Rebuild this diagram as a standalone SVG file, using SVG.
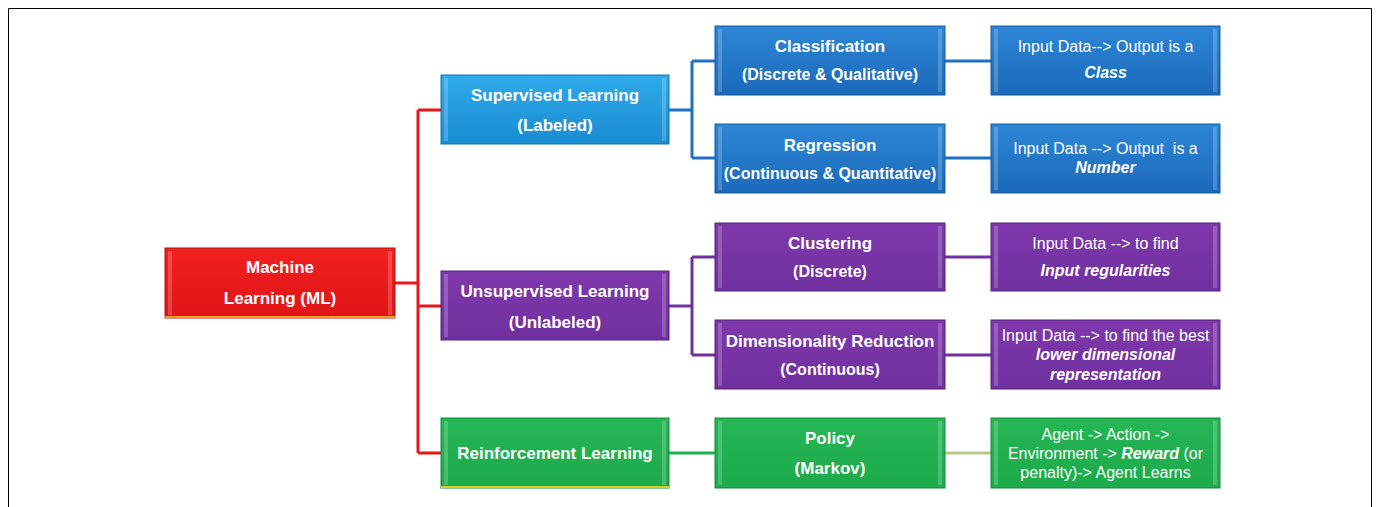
<svg xmlns="http://www.w3.org/2000/svg" width="1380" height="507" viewBox="0 0 1380 507">
<style>
.t{font-family:"Liberation Sans",Arial,sans-serif;fill:#fff;text-anchor:middle}
.b1{font-weight:bold;font-size:17px}
.b2{font-weight:bold;font-size:16px}
.r{font-size:16px}
.bi{font-weight:bold;font-style:italic}
.edge{fill:#fff;opacity:0.2}
.c{fill:none;stroke-width:3}
.red{fill:url(#gRed);stroke:#b01010;stroke-width:1}
.sup{fill:url(#gSup);stroke:#1670a8;stroke-width:1}
.blu{fill:url(#gBlu);stroke:#175a9c;stroke-width:1}
.pur{fill:url(#gPur);stroke:#55207a;stroke-width:1}
.grn{fill:url(#gGrn);stroke:#178a3c;stroke-width:1}
</style>
<defs>
<linearGradient id="gRed" x1="0" y1="0" x2="0" y2="1"><stop offset="0" stop-color="#f0201e"/><stop offset="1" stop-color="#e01418"/></linearGradient>
<linearGradient id="gSup" x1="0" y1="0" x2="0" y2="1"><stop offset="0" stop-color="#2eaaea"/><stop offset="1" stop-color="#1a8cd2"/></linearGradient>
<linearGradient id="gBlu" x1="0" y1="0" x2="0" y2="1"><stop offset="0" stop-color="#2e86d6"/><stop offset="1" stop-color="#1b69ba"/></linearGradient>
<linearGradient id="gPur" x1="0" y1="0" x2="0" y2="1"><stop offset="0" stop-color="#7f38ab"/><stop offset="1" stop-color="#7030a0"/></linearGradient>
<linearGradient id="gGrn" x1="0" y1="0" x2="0" y2="1"><stop offset="0" stop-color="#26b655"/><stop offset="1" stop-color="#1caa4a"/></linearGradient>
</defs>
<rect x="0" y="0" width="1380" height="507" fill="#fff"/>
<path d="M8.5 507 V8.5 H1371.5 V507" fill="none" stroke="#000" stroke-width="1"/>

<g id="connectors">
<path class="c" stroke="#e8161b" d="M395 283 H418 M418 110 V453 M418 110 H441 M418 306 H441 M418 453 H441"/>
<path class="c" stroke="#1f6fc2" d="M669 110 H692 M692 61 V158 M692 61 H715 M692 158 H715 M945 61 H991 M945 158 H991"/>
<path class="c" stroke="#7030a0" d="M669 306 H692 M692 257 V355 M692 257 H715 M692 355 H715 M945 257 H991 M945 355 H991"/>
<path class="c" stroke="#1fb04f" d="M669 453 H715"/>
<path class="c" stroke="#b5c98a" stroke-width="2" d="M945 453 H991"/>
</g>

<g id="ml">
<rect class="red" x="165" y="248" width="230" height="70"/>
<rect x="165" y="316" width="230" height="2" fill="#f0a020"/>
<rect class="edge" x="168" y="251" width="4" height="64"/><rect class="edge" x="388" y="251" width="4" height="64"/>
<text class="t b1" x="280" y="273">Machine</text>
<text class="t b1" x="280" y="304">Learning (ML)</text>
</g>

<g id="supervised">
<rect class="sup" x="441" y="75" width="228" height="69"/>
<rect class="edge" x="444" y="78" width="4" height="63"/><rect class="edge" x="662" y="78" width="4" height="63"/>
<text class="t b1" x="555" y="101">Supervised Learning</text>
<text class="t b1" x="555" y="131">(Labeled)</text>
</g>

<g id="classification">
<rect class="blu" x="715" y="26" width="230" height="69"/>
<rect class="edge" x="718" y="29" width="4" height="63"/><rect class="edge" x="938" y="29" width="4" height="63"/>
<text class="t b1" x="830" y="52">Classification</text>
<text class="t b2" x="830" y="80">(Discrete &amp; Qualitative)</text>
</g>

<g id="class-out">
<rect class="blu" x="991" y="26" width="229" height="69"/>
<rect class="edge" x="994" y="29" width="4" height="63"/><rect class="edge" x="1213" y="29" width="4" height="63"/>
<text class="t r" x="1105.5" y="52">Input Data--&gt; Output is a</text>
<text class="t r bi" x="1105.5" y="78">Class</text>
</g>

<g id="regression">
<rect class="blu" x="715" y="124" width="230" height="69"/>
<rect class="edge" x="718" y="127" width="4" height="63"/><rect class="edge" x="938" y="127" width="4" height="63"/>
<text class="t b1" x="830" y="151">Regression</text>
<text class="t b2" x="830" y="179">(Continuous &amp; Quantitative)</text>
</g>

<g id="regression-out">
<rect class="blu" x="991" y="124" width="229" height="69"/>
<rect class="edge" x="994" y="127" width="4" height="63"/><rect class="edge" x="1213" y="127" width="4" height="63"/>
<text class="t r" x="1105.5" y="154" xml:space="preserve">Input Data --&gt; Output  is a</text>
<text class="t r bi" x="1105.5" y="173">Number</text>
</g>

<g id="unsupervised">
<rect class="pur" x="441" y="271" width="228" height="69"/>
<rect class="edge" x="444" y="274" width="4" height="63"/><rect class="edge" x="662" y="274" width="4" height="63"/>
<text class="t b1" x="555" y="297">Unsupervised Learning</text>
<text class="t b1" x="555" y="328">(Unlabeled)</text>
</g>

<g id="clustering">
<rect class="pur" x="715" y="223" width="230" height="68"/>
<rect class="edge" x="718" y="226" width="4" height="62"/><rect class="edge" x="938" y="226" width="4" height="62"/>
<text class="t b1" x="830" y="249">Clustering</text>
<text class="t b2" x="830" y="277">(Discrete)</text>
</g>

<g id="clustering-out">
<rect class="pur" x="991" y="223" width="229" height="68"/>
<rect class="edge" x="994" y="226" width="4" height="62"/><rect class="edge" x="1213" y="226" width="4" height="62"/>
<text class="t r" x="1105.5" y="249">Input Data --&gt; to find</text>
<text class="t r bi" x="1105.5" y="276">Input regularities</text>
</g>

<g id="dimred">
<rect class="pur" x="715" y="320" width="230" height="69"/>
<rect class="edge" x="718" y="323" width="4" height="63"/><rect class="edge" x="938" y="323" width="4" height="63"/>
<text class="t b1" x="830" y="347">Dimensionality Reduction</text>
<text class="t b2" x="830" y="375">(Continuous)</text>
</g>

<g id="dimred-out">
<rect class="pur" x="991" y="320" width="229" height="69"/>
<rect class="edge" x="994" y="323" width="4" height="63"/><rect class="edge" x="1213" y="323" width="4" height="63"/>
<text class="t r" x="1105.5" y="341">Input Data --&gt; to find the best</text>
<text class="t r bi" x="1105.5" y="360">lower dimensional</text>
<text class="t r bi" x="1105.5" y="380">representation</text>
</g>

<g id="reinforcement">
<rect class="grn" x="441" y="418" width="228" height="70"/>
<rect x="441" y="486" width="228" height="2" fill="#d8d020"/>
<rect class="edge" x="444" y="421" width="4" height="64"/><rect class="edge" x="662" y="421" width="4" height="64"/>
<text class="t b1" x="555" y="459">Reinforcement Learning</text>
</g>

<g id="policy">
<rect class="grn" x="715" y="418" width="230" height="70"/>
<rect class="edge" x="718" y="421" width="4" height="64"/><rect class="edge" x="938" y="421" width="4" height="64"/>
<text class="t b1" x="830" y="444">Policy</text>
<text class="t b1" x="830" y="474">(Markov)</text>
</g>

<g id="policy-out">
<rect class="grn" x="991" y="418" width="229" height="70"/>
<rect class="edge" x="994" y="421" width="4" height="64"/><rect class="edge" x="1213" y="421" width="4" height="64"/>
<text class="t r" x="1105.5" y="440">Agent -&gt; Action -&gt;</text>
<text class="t r" x="1105.5" y="459">Environment -&gt; <tspan class="bi">Reward</tspan> (or</text>
<text class="t r" x="1105.5" y="478">penalty)-&gt; Agent Learns</text>
</g>
</svg>
